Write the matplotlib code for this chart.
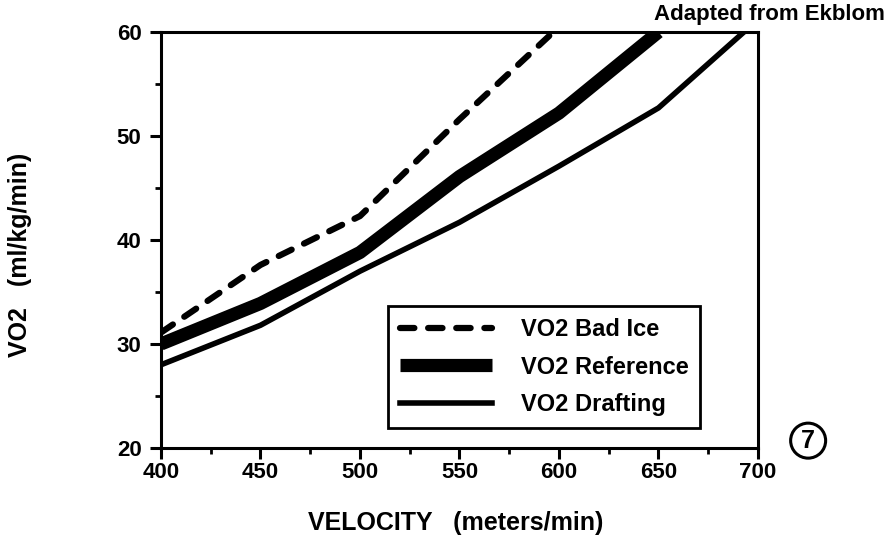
import numpy as np
import matplotlib
matplotlib.use("Agg")
import matplotlib.pyplot as plt
from matplotlib.ticker import MultipleLocator

plt.rcParams['font.family'] = ['Liberation Sans', 'DejaVu Sans']
plt.rcParams['font.weight'] = 'bold'

# data
velocity = [400, 450, 500, 550, 600, 650, 700]
bad_ice = [31.1, 37.6, 42.3, 51.6, 60.5]
reference = [30.0, 33.9, 38.8, 46.1, 52.2, 60.0]
drafting = [28.0, 31.8, 37.0, 41.7, 47.1, 52.7, 61.2]

fig = plt.figure(figsize=(8.91, 5.44), dpi=100)
ax = fig.add_axes([0.1807, 0.1765, 0.6700, 0.7647])

ax.plot(velocity[:len(bad_ice)], bad_ice, color='black', lw=4.5,
        linestyle=(0, (2.3, 2.2)), dash_capstyle='round', label='VO2 Bad Ice')
ax.plot(velocity[:len(reference)], reference, color='black', lw=9.5,
        solid_capstyle='butt', label='VO2 Reference')
ax.plot(velocity, drafting, color='black', lw=4, label='VO2 Drafting')

ax.set_xlim(400, 700)
ax.set_ylim(20, 60)
ax.xaxis.set_major_locator(MultipleLocator(50))
ax.xaxis.set_minor_locator(MultipleLocator(25))
ax.yaxis.set_major_locator(MultipleLocator(10))
ax.yaxis.set_minor_locator(MultipleLocator(5))
ax.tick_params(which='major', direction='out', length=8, width=2.2, labelsize=16)
ax.tick_params(axis='y', which='major', pad=6)
ax.tick_params(axis='x', which='major', pad=2)
ax.tick_params(which='minor', direction='out', length=4.5, width=2)
for s in ax.spines.values():
    s.set_linewidth(2.2)
for lab in ax.get_xticklabels() + ax.get_yticklabels():
    lab.set_fontweight('bold')

ax.set_xlabel('VELOCITY   (meters/min)', fontsize=18, fontweight='bold', va='center')
ax.set_ylabel('VO2   (ml/kg/min)', fontsize=18, fontweight='bold', va='center')
ax.xaxis.set_label_coords(0.493, -0.18)
ax.yaxis.set_label_coords(-0.237, 0.464)

leg = ax.legend(loc='lower left', bbox_to_anchor=(0.381, 0.048), fontsize=17,
                handlelength=3.9, handletextpad=1.2, borderpad=0.5, labelspacing=0.62,
                borderaxespad=0, fancybox=False, framealpha=1, edgecolor='black')
leg.get_frame().set_linewidth(2)
for t in leg.get_texts():
    t.set_fontweight('bold')

fig.text(0.993, 0.974, 'Adapted from Ekblom', ha='right', va='center', fontsize=16,
         fontweight='bold')
fig.text(0.907, 0.19, '7', ha='center', va='center', fontsize=18, fontweight='bold',
         bbox=dict(boxstyle='circle,pad=0.22', fc='white', ec='black', lw=2.2))

fig.savefig('out.png', dpi=100)
